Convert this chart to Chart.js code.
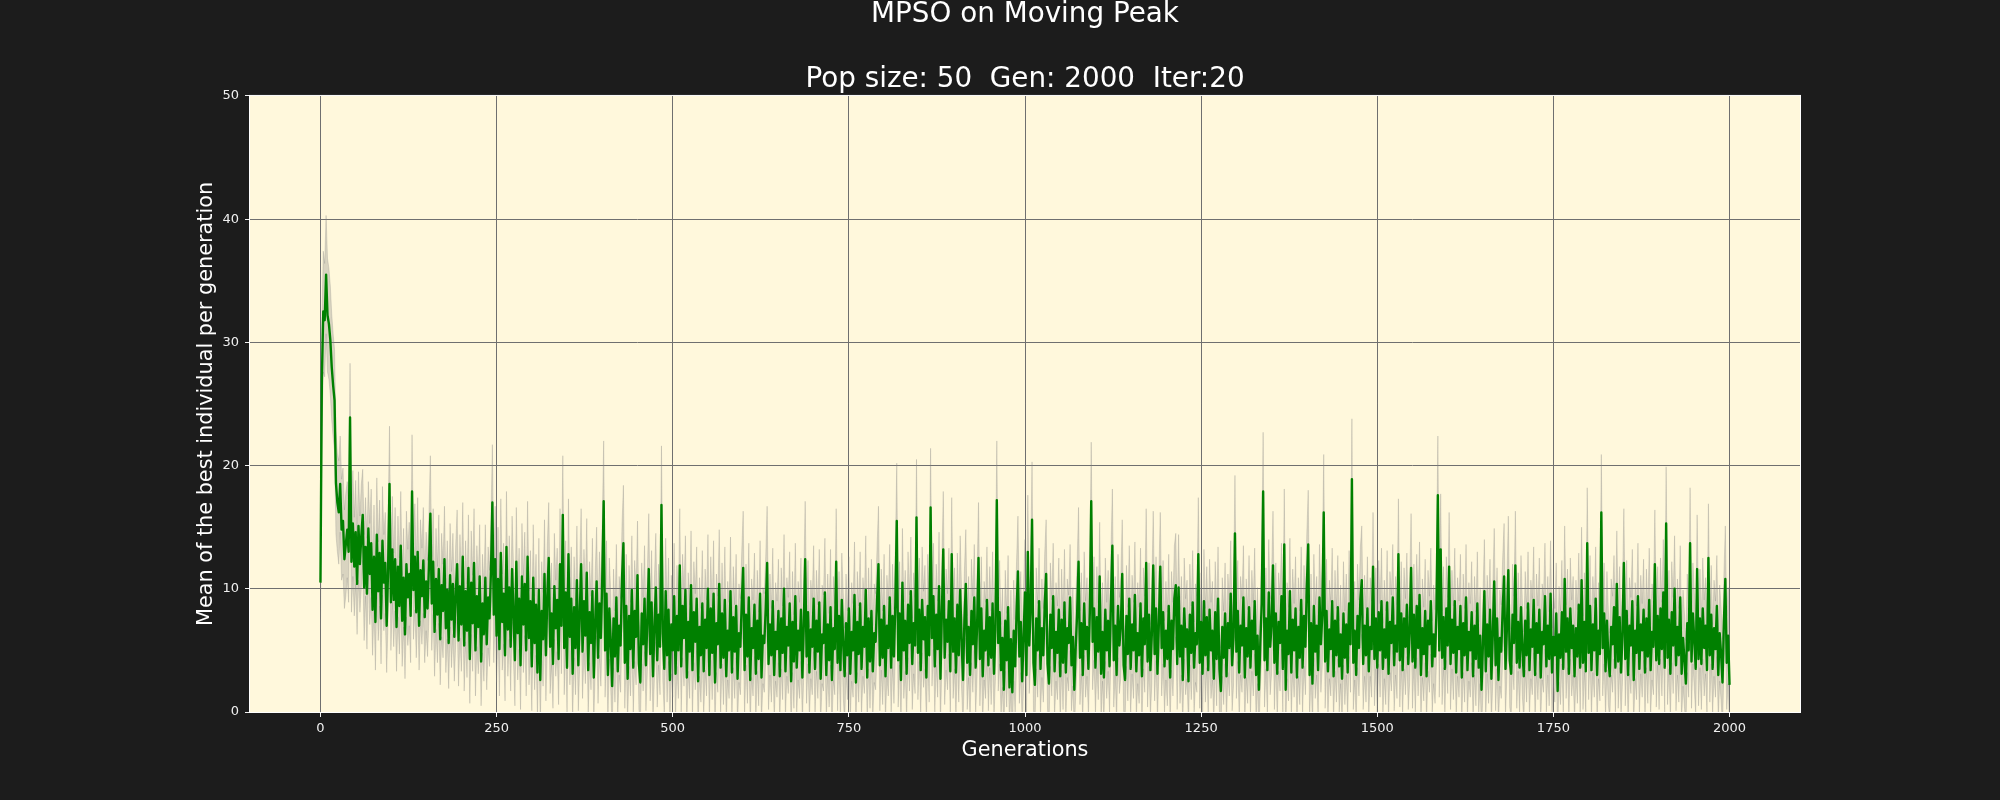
<!DOCTYPE html>
<html>
<head>
<meta charset="utf-8">
<script src="https://cdn.jsdelivr.net/npm/chart.js"></script>
<style>
html,body{margin:0;padding:0;background:#1c1c1c;overflow:hidden}
canvas{display:block}
</style>
</head>
<body>
<canvas id="c" width="2000" height="800"></canvas>
<script>
// ---- data ----
const GEN_STEP = 2; // one sample every 2 generations
const meanBest = [
10.5,27.0,32.5,31.8,35.5,32.2,31.5,30.2,28.0,26.5,25.3,18.6,17.0,16.2,18.5,14.8,15.5,12.4,13.6,14.8,13.0,23.9,12.2,15.3,11.8,14.6,
10.4,15.1,12.0,14.3,16.0,10.1,13.4,9.6,14.9,11.2,13.7,8.3,12.6,7.3,14.4,9.8,12.9,7.6,13.9,10.5,12.1,7.0,11.6,18.5,8.9,
13.2,9.1,12.4,6.9,11.8,8.6,13.5,7.4,10.9,6.3,12.0,9.3,11.2,7.8,17.9,9.9,12.6,8.1,13.0,7.0,11.5,9.4,12.3,7.7,10.6,
8.4,11.9,16.1,8.8,12.2,6.5,10.8,7.9,11.6,5.9,10.3,8.2,12.4,6.8,9.9,5.6,11.1,7.5,10.4,6.1,9.6,12.0,5.8,10.2,7.1,
12.6,5.4,9.8,6.6,11.7,4.3,10.5,7.2,12.1,5.0,9.4,6.9,11.0,4.1,8.8,6.3,10.9,5.5,9.3,7.6,11.4,17.0,7.9,12.4,6.2,
10.8,5.1,12.9,7.3,9.6,4.6,13.4,6.7,10.1,5.3,11.6,8.0,4.2,12.2,6.4,9.2,3.8,11.0,7.1,10.4,5.0,12.6,6.0,9.0,3.7,
10.9,5.6,8.7,3.2,9.9,2.6,8.2,5.9,11.2,4.6,9.4,12.5,5.3,8.0,3.9,10.2,6.8,9.1,4.3,12.0,7.0,16.0,5.2,9.7,3.6,
12.8,6.1,9.2,3.1,8.5,5.2,10.7,3.8,7.9,12.0,4.9,9.0,6.2,11.3,3.4,8.1,5.6,9.8,2.8,7.4,10.6,4.4,8.8,6.0,10.9,
17.1,5.0,9.6,3.0,8.4,5.8,2.1,7.6,4.5,9.3,3.3,7.0,5.4,10.8,13.7,4.0,8.6,2.7,7.8,5.1,9.9,3.6,8.2,6.1,11.1,
3.9,2.4,8.0,5.5,9.2,3.8,7.4,11.6,4.7,8.9,2.9,6.8,10.1,4.2,7.9,5.3,16.8,6.4,3.5,9.8,4.6,8.3,2.6,7.1,5.0,
9.4,3.1,7.8,5.0,11.9,3.7,8.6,6.0,9.9,2.8,7.3,4.9,10.3,3.4,8.1,5.7,9.2,2.5,6.9,4.6,8.8,3.3,7.5,5.2,10.0,
3.0,8.4,4.8,9.6,2.4,7.2,5.5,10.4,3.6,8.0,4.4,9.1,2.9,6.6,5.0,9.8,3.2,7.7,4.9,8.6,2.7,6.4,5.3,8.9,11.7,
3.4,7.9,4.5,9.3,2.6,6.8,5.2,8.7,3.1,7.4,4.3,9.6,2.8,6.2,5.6,8.4,12.1,3.9,7.1,4.6,9.0,3.0,6.5,5.1,8.2,
2.9,7.6,4.8,10.0,3.3,6.9,5.4,8.8,2.5,7.3,4.1,9.4,3.6,6.6,5.0,8.3,2.8,7.0,12.4,4.5,8.1,3.2,6.7,5.3,9.2,
3.5,7.4,4.9,8.9,2.7,6.3,5.6,9.7,3.0,7.1,4.2,8.5,2.6,6.8,5.1,12.2,4.0,7.8,3.4,9.1,5.5,2.9,7.2,4.6,8.4,
3.1,6.5,5.0,9.5,2.4,7.3,4.7,8.8,3.5,6.9,5.3,9.9,2.8,7.6,4.1,8.2,3.3,6.4,5.7,9.0,12.0,3.8,7.5,4.4,8.6,
2.9,7.0,5.2,9.3,3.6,7.8,4.5,8.9,15.5,4.2,8.0,2.6,10.5,5.0,7.4,3.1,8.7,5.6,9.8,3.9,7.2,5.4,15.8,4.8,8.3,
3.4,9.1,5.9,7.7,2.8,8.6,4.6,16.6,6.0,9.4,3.7,7.9,5.1,10.2,2.7,8.0,13.2,4.4,7.5,5.7,9.0,3.3,12.8,4.9,7.6,
3.2,8.7,4.6,9.9,5.8,2.6,7.4,10.4,4.0,6.9,3.0,8.2,5.5,9.3,3.6,7.0,12.5,4.3,8.4,2.9,6.6,5.0,9.1,3.8,7.7,
4.4,8.8,3.1,6.7,17.2,5.6,8.1,3.4,6.0,1.8,7.4,4.2,8.5,2.0,5.9,1.6,6.6,3.7,8.0,11.4,4.5,7.3,2.5,6.2,9.7,
3.0,13.0,5.4,8.2,15.6,4.0,2.2,7.6,5.0,9.0,3.5,6.8,4.6,8.7,11.2,3.9,2.3,7.9,5.2,9.4,3.3,6.5,4.8,8.3,2.9,
7.5,4.0,8.9,3.2,6.8,5.6,9.3,3.8,6.1,1.8,5.3,8.0,12.2,4.4,7.2,3.0,8.8,5.1,6.9,3.5,8.1,17.1,5.7,8.4,3.6,
7.7,4.9,11.0,3.1,6.5,2.8,8.3,5.0,7.4,3.7,8.9,13.5,4.2,7.0,3.0,8.6,5.4,6.9,11.2,3.8,2.6,7.8,4.7,9.2,3.5,
7.1,5.0,9.5,3.3,6.4,4.6,8.8,2.9,7.6,5.5,12.1,4.1,7.9,3.4,6.3,11.9,4.7,8.4,3.1,7.2,11.8,5.2,8.1,3.7,6.6,
4.3,8.6,2.8,7.4,5.1,9.2,10.3,3.9,10.1,4.5,7.0,2.6,8.4,5.3,6.7,2.5,7.9,4.8,8.9,3.6,6.4,5.5,12.8,4.0,7.3,
3.1,9.0,4.6,7.7,3.4,8.3,5.0,6.6,2.7,8.1,4.3,9.2,3.5,1.7,6.9,4.4,8.0,2.9,7.2,5.2,9.6,3.8,6.1,14.5,4.9,
8.2,3.2,7.0,5.4,9.3,2.8,6.8,4.5,8.5,3.6,7.4,5.1,9.0,3.0,6.2,1.8,5.6,8.8,17.9,4.2,7.6,3.4,9.7,5.3,7.1,
11.9,4.0,8.0,3.1,7.3,5.6,9.4,3.5,13.6,1.8,6.6,4.7,9.8,3.2,7.5,5.0,8.4,2.8,6.9,4.4,9.1,3.6,7.8,5.3,10.2,
13.6,3.0,7.2,2.3,8.6,4.9,7.0,3.4,9.3,5.5,7.9,16.2,4.1,8.2,3.3,6.7,5.1,9.0,2.9,7.4,4.6,8.5,3.7,6.3,2.7,
8.0,4.4,7.1,3.2,8.8,5.5,18.9,4.0,6.6,3.0,7.8,5.2,9.1,10.7,3.9,7.0,4.6,8.4,3.3,6.9,5.1,11.8,4.3,7.6,3.6,
8.1,5.0,9.0,3.5,6.7,4.4,8.9,3.1,7.3,5.6,9.3,3.8,7.0,4.9,12.8,4.2,8.0,3.4,7.6,5.3,8.7,3.9,6.4,11.7,4.1,
7.9,3.6,8.6,5.2,9.5,3.0,6.8,4.7,8.2,2.9,7.4,5.5,9.0,3.7,6.3,4.5,8.1,17.6,5.0,13.2,4.4,7.7,3.5,8.4,5.4,
11.8,3.9,7.5,4.8,9.0,3.2,6.9,5.1,8.6,2.8,7.2,4.6,9.3,3.4,6.5,5.0,8.1,2.9,7.0,4.3,8.8,3.6,6.2,1.8,5.6,
9.8,3.3,7.1,4.5,8.3,2.7,6.4,10.6,3.8,7.6,2.6,6.0,4.9,8.4,11.0,3.5,6.8,11.5,4.2,3.1,7.9,5.6,11.9,4.0,7.3,
3.6,8.5,5.0,2.9,7.4,4.6,8.8,3.4,6.7,5.3,9.1,3.0,7.2,4.8,8.3,2.8,6.5,5.5,9.4,3.7,7.0,4.3,9.6,3.2,6.1,
4.6,8.0,1.7,6.3,4.4,8.1,3.5,10.8,4.9,7.6,3.1,8.4,5.2,7.0,2.9,6.8,4.5,8.7,3.6,10.7,4.0,7.3,3.3,13.7,4.8,
8.6,3.4,7.1,5.0,9.2,3.0,6.6,4.7,16.2,5.2,8.0,3.3,7.4,4.4,2.9,6.9,5.5,8.5,3.6,10.4,4.1,7.7,3.2,6.3,12.1,
4.3,8.2,3.0,7.0,5.4,9.0,2.6,6.6,4.8,9.4,3.5,7.1,5.0,8.3,3.2,7.6,4.5,9.1,3.4,6.5,5.3,12.0,4.2,7.8,3.9,
8.4,5.1,9.7,3.6,15.3,4.4,7.5,3.1,8.1,5.4,10.0,3.8,6.9,4.6,9.3,3.1,6.0,4.2,2.3,7.2,5.0,13.7,4.1,8.0,5.8,
3.5,11.6,4.3,7.6,3.9,8.4,5.2,7.0,3.4,12.5,4.6,7.9,3.5,6.8,5.1,8.6,3.0,6.4,4.7,2.4,7.3,10.8,4.0,6.2,2.2
];
const bestSpread = [
3.8,4.4,4.9,4.6,4.8,4.6,4.5,4.4,4.3,4.2,4.1,4.2,4.0,4.2,3.9,4.1,4.3,4.0,4.2,3.9,4.1,4.4,4.1,4.3,4.0,4.2,
4.1,4.4,3.9,4.2,3.7,4.3,4.0,4.5,3.8,4.1,4.4,3.7,4.2,3.9,4.6,4.0,4.3,3.7,4.4,3.9,4.1,3.8,4.2,4.7,3.9,
4.3,3.8,4.2,3.6,4.1,3.9,4.4,3.7,4.0,3.6,4.3,3.9,4.2,3.8,4.6,4.0,4.3,3.7,4.4,3.6,4.1,3.9,4.3,3.7,4.0,
3.9,4.2,4.7,3.8,4.3,3.6,4.1,3.9,4.4,3.7,4.2,3.8,4.3,3.6,4.0,3.7,4.2,3.9,4.1,3.6,4.0,4.4,3.7,4.2,3.8,
4.4,3.7,4.1,3.8,4.3,3.6,4.2,3.9,4.4,3.7,4.1,3.8,4.2,3.6,4.0,3.8,4.3,3.7,4.1,3.9,4.2,4.7,3.9,4.3,3.8,
4.2,3.8,4.4,3.9,4.1,3.7,4.5,3.8,4.2,3.6,4.3,3.9,3.7,4.4,3.8,4.1,3.6,4.3,3.9,4.2,3.7,4.5,3.8,4.1,3.6,
4.3,3.8,4.1,3.5,4.2,3.5,4.0,3.8,4.4,3.7,4.2,4.5,3.8,4.1,3.6,4.3,3.9,4.2,3.7,4.5,3.9,4.8,3.8,4.2,3.6,
4.5,3.9,4.2,3.6,4.1,3.8,4.4,3.7,4.1,4.5,3.8,4.2,3.9,4.4,3.6,4.1,3.8,4.3,3.5,4.0,4.4,3.7,4.2,3.9,4.3,
4.9,3.8,4.3,3.6,4.1,3.9,3.5,4.0,3.7,4.3,3.6,4.0,3.8,4.4,4.7,3.7,4.2,3.5,4.1,3.8,4.4,3.7,4.1,3.9,4.4,
3.7,3.5,4.1,3.8,4.3,3.7,4.0,4.5,3.8,4.2,3.6,4.0,4.4,3.8,4.1,3.9,4.8,3.9,3.7,4.3,3.8,4.2,3.5,4.0,3.8,
4.3,3.6,4.1,3.9,4.6,3.7,4.2,3.9,4.4,3.6,4.0,3.8,4.4,3.7,4.1,3.9,4.2,3.6,4.0,3.8,4.3,3.7,4.1,3.9,4.4,
3.6,4.2,3.8,4.3,3.5,4.0,3.9,4.4,3.7,4.1,3.8,4.3,3.6,4.0,3.9,4.4,3.7,4.1,3.8,4.2,3.6,4.0,3.9,4.2,4.6,
3.7,4.1,3.8,4.4,3.6,4.0,3.9,4.2,3.7,4.1,3.8,4.3,3.6,3.9,4.0,4.2,4.6,3.7,4.1,3.8,4.3,3.6,4.0,3.9,4.2,
3.6,4.1,3.8,4.4,3.7,4.0,3.9,4.2,3.6,4.1,3.8,4.3,3.7,4.0,3.9,4.2,3.6,4.0,4.7,3.8,4.2,3.7,4.0,3.9,4.3,
3.7,4.1,3.8,4.3,3.6,4.0,3.9,4.4,3.6,4.1,3.8,4.7,3.8,4.2,3.7,4.3,3.9,3.6,4.1,3.8,4.2,3.9,4.0,3.6,4.2,
3.6,4.0,3.8,4.3,3.5,4.1,3.9,4.2,3.7,4.0,3.8,4.4,3.6,4.1,3.8,4.2,3.7,4.0,3.9,4.3,4.7,3.7,4.1,3.8,4.2,
3.6,4.1,3.9,4.3,3.7,4.2,3.8,4.3,4.7,3.8,4.2,3.6,4.4,3.9,4.1,3.7,4.3,3.9,4.4,3.7,4.1,3.9,4.7,3.8,4.2,
3.7,4.3,3.9,4.2,3.6,4.2,3.8,4.8,3.9,4.3,3.7,4.1,3.9,4.4,3.6,4.2,4.7,3.8,4.1,3.9,4.3,3.7,4.6,3.8,4.1,
3.7,4.2,3.8,4.4,3.9,3.6,4.1,4.4,3.8,4.1,3.6,4.2,3.9,4.3,3.7,4.1,4.5,3.8,4.2,3.6,4.0,3.9,4.3,3.7,4.1,
3.8,4.2,3.6,4.0,4.8,3.9,4.2,3.7,4.0,3.5,4.1,3.8,4.2,3.5,4.0,3.5,4.1,3.8,4.2,4.5,3.8,4.1,3.6,4.0,4.3,
3.7,4.6,3.9,4.2,4.7,3.8,3.5,4.1,3.8,4.3,3.7,4.0,3.8,4.2,4.4,3.7,3.5,4.2,3.9,4.3,3.7,4.0,3.8,4.2,3.6,
4.1,3.8,4.3,3.7,4.0,3.9,4.3,3.7,4.0,3.5,3.9,4.1,4.4,3.8,4.1,3.7,4.2,3.9,4.0,3.7,4.2,4.8,3.9,4.2,3.7,
4.1,3.9,4.4,3.7,4.0,3.6,4.2,3.9,4.1,3.7,4.2,4.6,3.8,4.0,3.7,4.2,3.9,4.1,4.4,3.7,3.5,4.1,3.8,4.3,3.7,
4.0,3.9,4.3,3.7,4.1,3.9,4.5,3.8,4.1,3.9,4.4,3.7,4.2,3.7,4.0,4.4,3.8,4.2,3.7,4.1,4.4,3.9,4.2,3.7,4.0,
3.8,4.2,3.6,4.0,3.8,4.3,4.2,3.7,4.3,3.8,4.0,3.5,4.1,3.9,4.0,3.5,4.1,3.8,4.2,3.7,4.0,3.9,4.6,3.7,4.0,
3.7,4.2,3.8,4.1,3.7,4.1,3.9,4.0,3.6,4.1,3.8,4.2,3.7,3.5,4.0,3.8,4.1,3.6,4.0,3.9,4.3,3.7,3.9,4.7,3.8,
4.1,3.7,4.0,3.8,4.2,3.6,4.0,3.8,4.2,3.7,4.1,3.8,4.3,3.6,3.9,3.5,3.8,4.2,4.8,3.8,4.1,3.7,4.3,3.9,4.0,
4.4,3.8,4.1,3.6,4.0,3.9,4.3,3.7,4.5,3.5,3.9,3.8,4.3,3.6,4.1,3.8,4.2,3.6,4.0,3.8,4.3,3.7,4.1,3.9,4.3,
4.4,3.6,4.0,3.5,4.2,3.8,4.0,3.7,4.3,3.9,4.1,4.7,3.8,4.2,3.6,4.0,3.8,4.3,3.6,4.1,3.8,4.2,3.7,4.0,3.5,
4.2,3.8,4.1,3.6,4.3,3.9,4.9,3.8,4.0,3.6,4.2,3.9,4.3,4.4,3.7,4.1,3.8,4.2,3.6,4.0,3.9,4.4,3.8,4.1,3.7,
4.2,3.8,4.3,3.7,4.0,3.8,4.2,3.6,4.1,3.9,4.3,3.7,4.0,3.8,4.5,3.8,4.2,3.6,4.1,3.9,4.2,3.7,4.0,4.4,3.8,
4.1,3.7,4.2,3.9,4.3,3.6,4.0,3.8,4.2,3.6,4.1,3.9,4.3,3.7,4.0,3.8,4.1,4.8,3.8,4.5,3.8,4.1,3.7,4.2,3.9,
4.4,3.7,4.0,3.8,4.3,3.6,4.0,3.9,4.2,3.5,4.0,3.8,4.3,3.7,4.0,3.8,4.1,3.6,4.0,3.8,4.2,3.7,3.9,3.5,3.9,
4.2,3.7,4.0,3.8,4.1,3.5,3.9,4.3,3.7,4.1,3.5,3.9,3.8,4.1,4.3,3.7,3.9,4.4,3.8,3.6,4.1,3.8,4.4,3.7,4.0,
3.7,4.2,3.8,3.6,4.0,3.8,4.2,3.7,4.0,3.9,4.3,3.6,4.0,3.8,4.2,3.5,3.9,3.9,4.3,3.7,4.0,3.8,4.3,3.6,3.9,
3.8,4.1,3.5,3.9,3.8,4.2,3.7,4.3,3.8,4.0,3.6,4.1,3.9,4.0,3.6,3.9,3.8,4.2,3.7,4.3,3.8,4.0,3.6,4.5,3.8,
4.1,3.7,3.9,3.8,4.2,3.6,3.9,3.8,4.7,3.9,4.1,3.6,4.0,3.8,3.5,3.9,3.9,4.2,3.7,4.3,3.8,4.1,3.6,3.9,4.4,
3.8,4.1,3.6,3.9,3.9,4.2,3.5,3.9,3.8,4.3,3.7,4.0,3.8,4.1,3.6,4.0,3.8,4.2,3.7,3.9,3.9,4.4,3.8,4.0,3.7,
4.1,3.8,4.3,3.7,4.6,3.8,4.0,3.6,4.1,3.9,4.3,3.7,3.9,3.8,4.2,3.6,3.9,3.8,3.5,4.0,3.8,4.5,3.8,4.1,3.9,
3.7,4.4,3.8,4.0,3.7,4.1,3.9,3.9,3.6,4.4,3.8,4.0,3.6,3.9,3.9,4.1,3.6,3.9,3.8,3.5,3.9,4.3,3.8,3.9,3.6
];
const xTickValues = [0,250,500,750,1000,1250,1500,1750,2000];
const yTickValues = [0,10,20,30,40,50];
const titleLines = ['MPSO on Moving Peak', '', 'Pop size: 50  Gen: 2000  Iter:20'];
const xAxisLabel = 'Generations';
const yAxisLabel = 'Mean of the best individual per generation';

// ---- build series ----
const n = Math.min(meanBest.length, bestSpread.length);
const generations = [];
for (let i = 0; i < n; i++) generations.push(i * GEN_STEP);
const meanPts = generations.map((g, i) => ({x: g, y: meanBest[i]}));
const upperPts = generations.map((g, i) => ({x: g, y: meanBest[i] + bestSpread[i]}));
const lowerPts = generations.map((g, i) => ({x: g, y: meanBest[i] - bestSpread[i]}));

const FONT = "'DejaVu Sans', 'Liberation Sans', sans-serif";
Chart.defaults.font.family = FONT;

const plotFrame = {
  id: 'plotFrame',
  beforeDraw(chart) {
    const {ctx, chartArea: a, width, height} = chart;
    ctx.save();
    ctx.fillStyle = '#1c1c1c';
    ctx.fillRect(0, 0, width, height);
    ctx.fillStyle = '#fff8dc';
    ctx.fillRect(a.left, a.top, a.right - a.left, a.bottom - a.top);
    ctx.restore();
  },
  afterDraw(chart) {
    const {ctx, chartArea: a} = chart;
    ctx.save();
    ctx.strokeStyle = '#ffffff';
    ctx.lineWidth = 1;
    ctx.strokeRect(a.left - 0.5, a.top - 0.5, a.right - a.left + 1, a.bottom - a.top + 1);
    ctx.restore();
  }
};

new Chart(document.getElementById('c'), {
  type: 'line',
  data: {
    datasets: [
      {label: 'mean', data: meanPts, borderColor: '#008000', borderWidth: 2.4,
       pointRadius: 0, fill: false, tension: 0, borderJoinStyle: 'round', order: 0},
      {label: 'upper', data: upperPts, borderColor: 'rgba(128,128,128,0.25)', borderWidth: 1,
       pointRadius: 0, fill: '+1', backgroundColor: 'rgba(128,128,128,0.3)', tension: 0, order: 1},
      {label: 'lower', data: lowerPts, borderColor: 'rgba(128,128,128,0.25)', borderWidth: 1,
       pointRadius: 0, fill: false, tension: 0, order: 2}
    ]
  },
  options: {
    responsive: false,
    animation: false,
    devicePixelRatio: 1,
    events: [],
    layout: {padding: {left: 190, right: 200, top: 0, bottom: 37}},
    plugins: {
      legend: {display: false},
      tooltip: {enabled: false},
      title: {
        display: true, text: titleLines, color: '#ffffff', fullSize: false,
        font: {family: FONT, size: 27.8, weight: 'normal', lineHeight: 1.16},
        padding: {top: -1.3, bottom: 0.5}
      }
    },
    scales: {
      x: {
        type: 'linear', min: -100, max: 2100,
        afterBuildTicks: s => { s.ticks = xTickValues.map(v => ({value: v})); },
        afterFit: s => { s.height = 51; },
        grid: {color: '#6f6f6f', lineWidth: 1, tickLength: 5, tickColor: '#f0f0f0', tickWidth: 1},
        border: {display: false},
        ticks: {color: '#f0f0f0', font: {family: FONT, size: 13}, padding: 4, maxRotation: 0, autoSkip: false,
                callback: v => String(v)},
        title: {display: true, text: xAxisLabel, color: '#ffffff',
                font: {family: FONT, size: 20.8, lineHeight: 1.2}, padding: {top: 0, bottom: 0}}
      },
      y: {
        type: 'linear', min: 0, max: 50,
        afterBuildTicks: s => { s.ticks = yTickValues.map(v => ({value: v})); },
        afterFit: s => { s.width = 60; },
        grid: {color: '#6f6f6f', lineWidth: 1, tickLength: 5, tickColor: '#f0f0f0', tickWidth: 1},
        border: {display: false},
        ticks: {color: '#f0f0f0', font: {family: FONT, size: 13}, padding: 6, callback: v => String(v)},
        title: {display: true, text: yAxisLabel, color: '#ffffff',
                font: {family: FONT, size: 20.8, lineHeight: 1.2}, padding: {top: 4.5, bottom: 0}}
      }
    }
  },
  plugins: [plotFrame]
});
</script>
</body>
</html>
